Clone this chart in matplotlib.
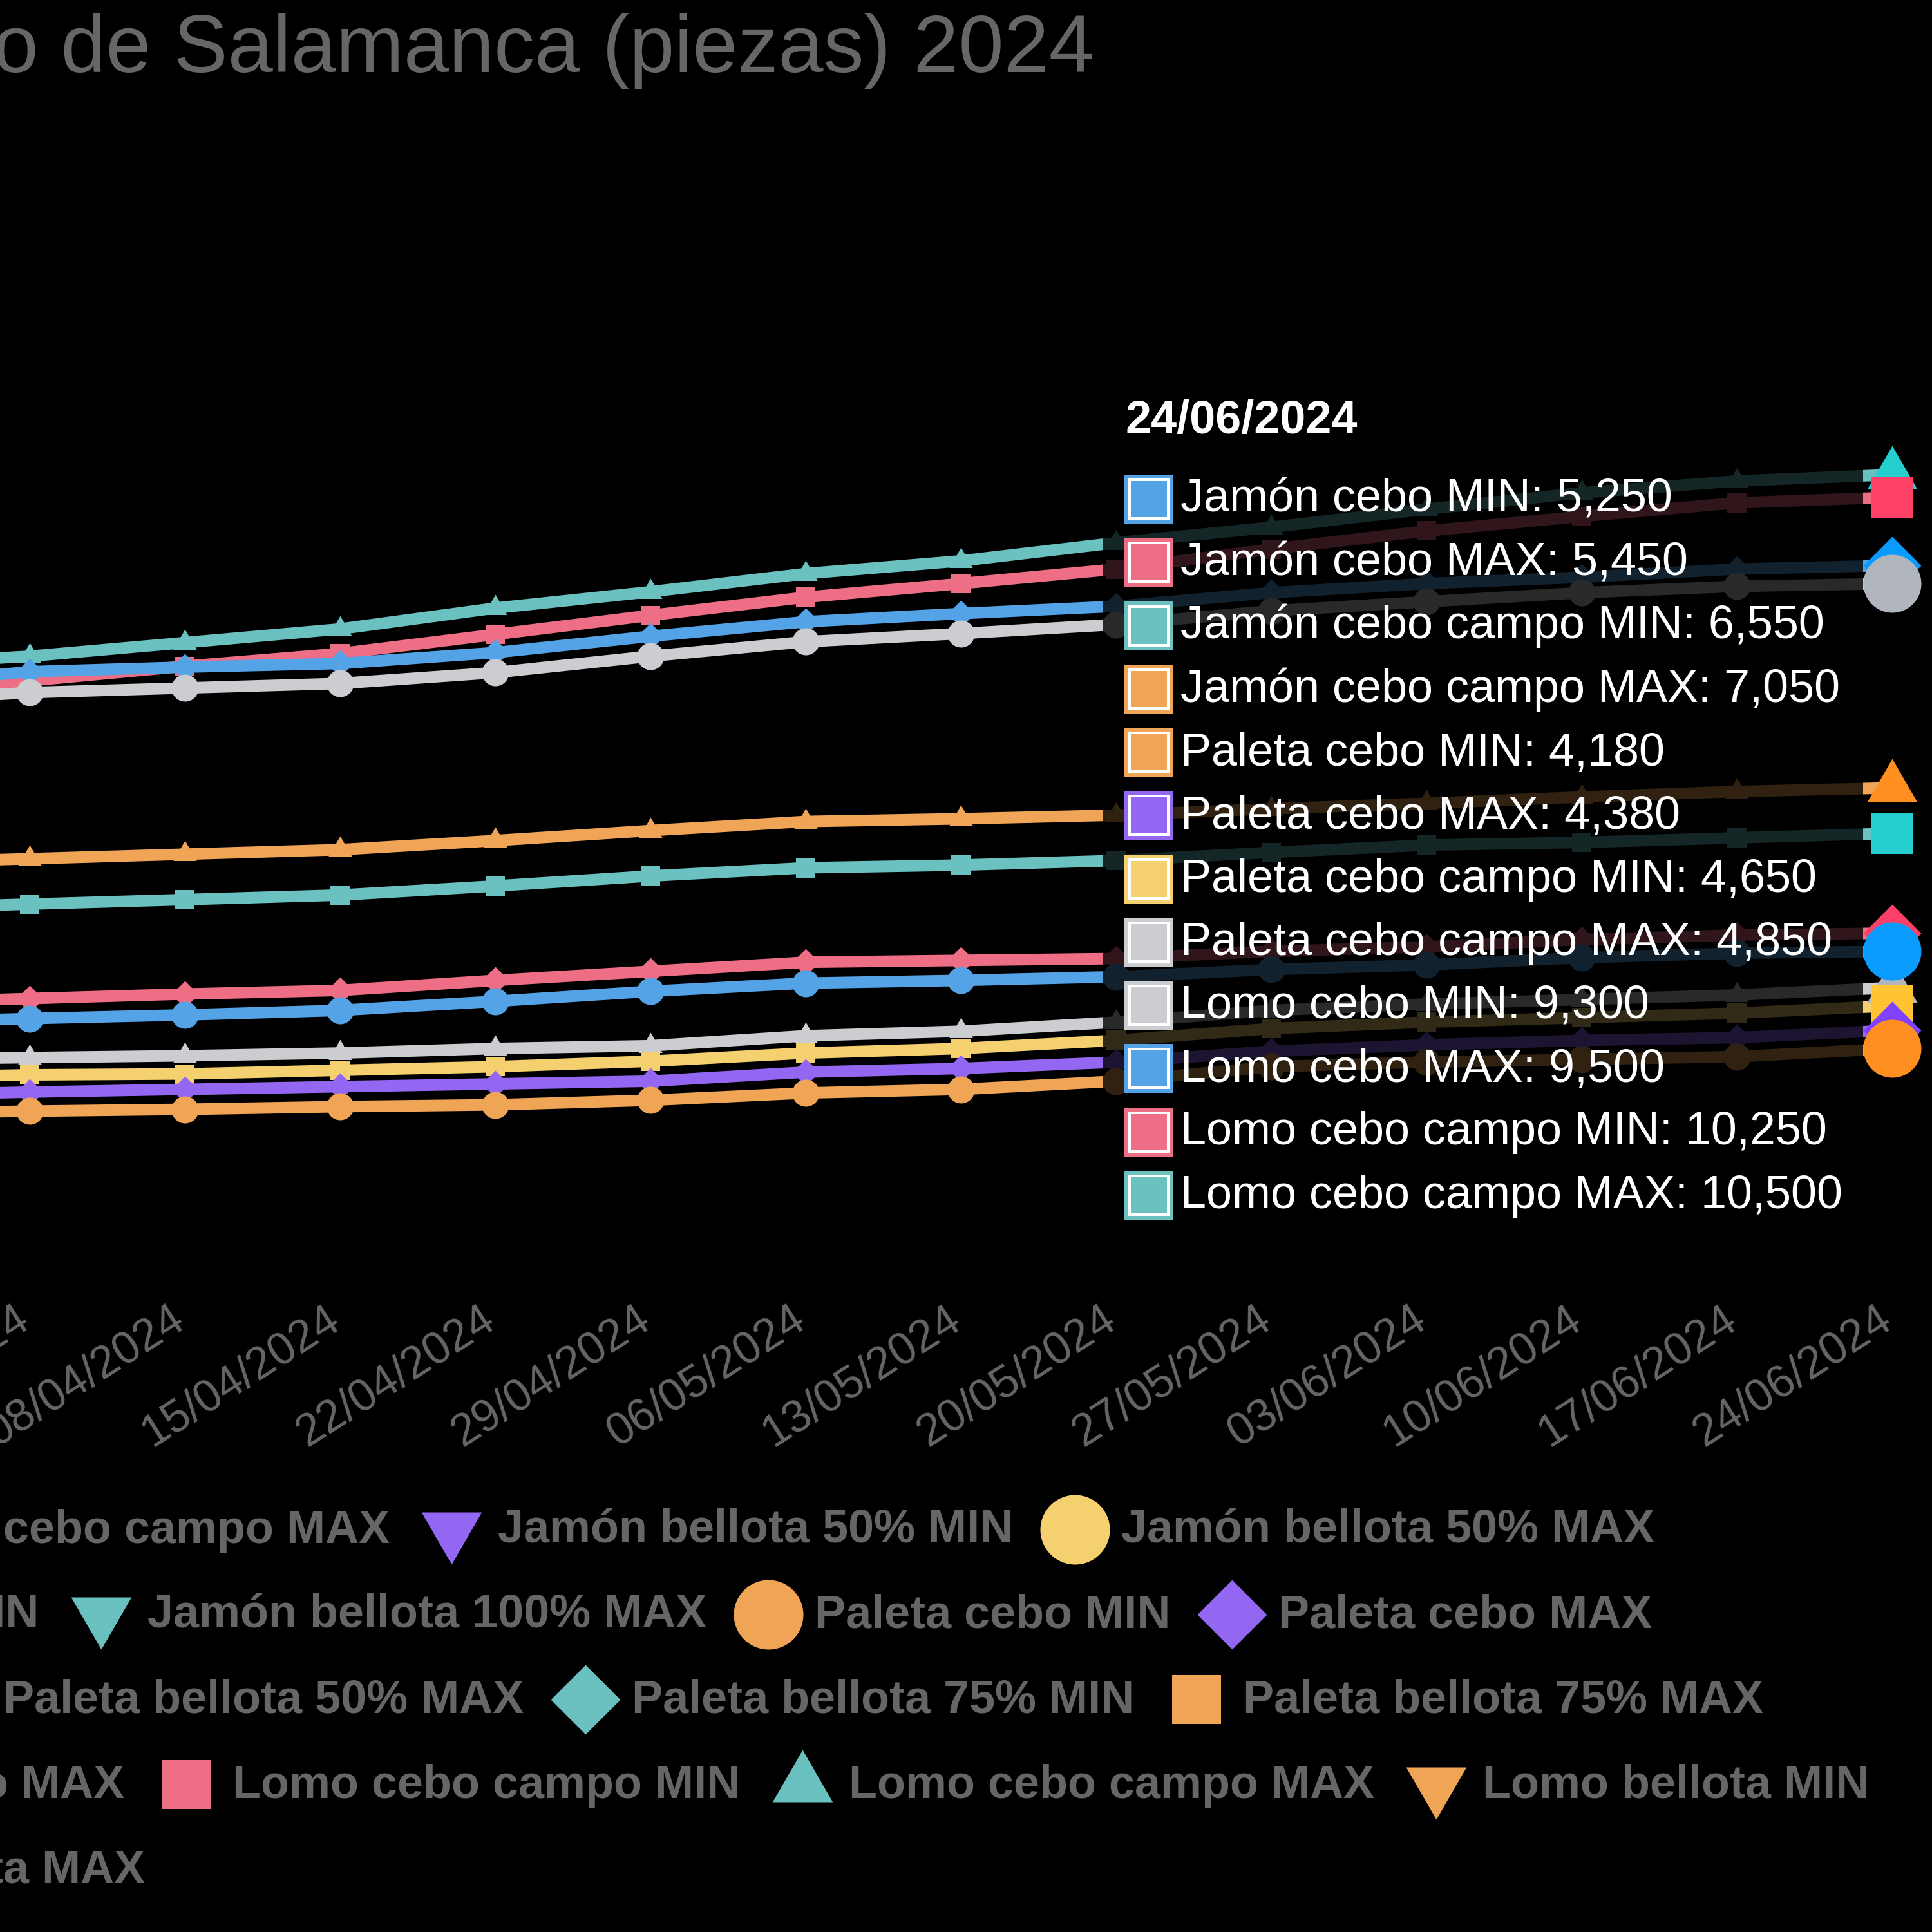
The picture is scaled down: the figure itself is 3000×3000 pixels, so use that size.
import numpy as np
import matplotlib
matplotlib.use('Agg')
import matplotlib.pyplot as plt
from matplotlib.path import Path
from matplotlib.patches import FancyBboxPatch, Rectangle
from matplotlib.lines import Line2D
from matplotlib.transforms import ScaledTranslation

plt.rcParams['font.family'] = ['Liberation Sans', 'DejaVu Sans']

# ---------------- data ----------------
TITLE = 'Precios del cerdo ibérico de Salamanca (piezas) 2024'
dates = ['25/03/2024', '01/04/2024', '08/04/2024', '15/04/2024', '22/04/2024',
         '29/04/2024', '06/05/2024', '13/05/2024', '20/05/2024', '27/05/2024',
         '03/06/2024', '10/06/2024', '17/06/2024', '24/06/2024']

series_names = [
    'Jamón cebo MIN', 'Jamón cebo MAX', 'Jamón cebo campo MIN', 'Jamón cebo campo MAX',
    'Jamón bellota 50% MIN', 'Jamón bellota 50% MAX', 'Jamón bellota 75% MIN',
    'Jamón bellota 75% MAX', 'Jamón bellota 100% MIN', 'Jamón bellota 100% MAX',
    'Paleta cebo MIN', 'Paleta cebo MAX', 'Paleta cebo campo MIN', 'Paleta cebo campo MAX',
    'Paleta bellota 50% MIN', 'Paleta bellota 50% MAX', 'Paleta bellota 75% MIN',
    'Paleta bellota 75% MAX', 'Paleta bellota 100% MIN', 'Paleta bellota 100% MAX',
    'Lomo cebo MIN', 'Lomo cebo MAX', 'Lomo cebo campo MIN', 'Lomo cebo campo MAX',
    'Lomo bellota MIN', 'Lomo bellota MAX']

jamon_cebo_min = [4.46, 4.51, 4.55, 4.60, 4.70, 4.81, 4.90, 4.93, 4.97, 5.05, 5.10, 5.18, 5.23, 5.25]
jamon_cebo_max = [4.68, 4.73, 4.78, 4.82, 4.93, 5.03, 5.13, 5.15, 5.17, 5.25, 5.30, 5.38, 5.43, 5.45]
jamon_cebo_campo_min = [5.72, 5.77, 5.82, 5.87, 5.97, 6.08, 6.17, 6.20, 6.25, 6.34, 6.42, 6.45, 6.50, 6.55]
jamon_cebo_campo_max = [6.22, 6.27, 6.32, 6.37, 6.47, 6.58, 6.68, 6.71, 6.75, 6.82, 6.88, 6.95, 7.01, 7.05]
paleta_cebo_min = [3.46, 3.49, 3.51, 3.54, 3.56, 3.61, 3.69, 3.73, 3.82, 3.98, 4.03, 4.06, 4.09, 4.18]
paleta_cebo_max = [3.66, 3.70, 3.73, 3.76, 3.79, 3.82, 3.92, 3.96, 4.03, 4.15, 4.22, 4.27, 4.30, 4.38]
paleta_cebo_campo_min = [3.86, 3.89, 3.90, 3.94, 3.98, 4.04, 4.13, 4.18, 4.27, 4.40, 4.47, 4.52, 4.57, 4.65]
paleta_cebo_campo_max = [4.06, 4.08, 4.10, 4.13, 4.18, 4.21, 4.32, 4.37, 4.47, 4.60, 4.67, 4.72, 4.77, 4.85]
lomo_cebo_min = [8.00, 8.10, 8.15, 8.20, 8.32, 8.50, 8.66, 8.75, 8.85, 9.00, 9.10, 9.20, 9.27, 9.30]
lomo_cebo_max = [8.17, 8.33, 8.38, 8.42, 8.54, 8.72, 8.88, 8.97, 9.05, 9.20, 9.30, 9.37, 9.46, 9.50]
lomo_cebo_campo_min = [8.07, 8.23, 8.39, 8.53, 8.74, 8.95, 9.15, 9.30, 9.46, 9.68, 9.88, 10.04, 10.19, 10.25]
lomo_cebo_campo_max = [8.40, 8.50, 8.65, 8.80, 9.03, 9.21, 9.41, 9.55, 9.75, 9.92, 10.12, 10.30, 10.43, 10.50]

series_values = {
    'Jamón cebo MIN': jamon_cebo_min, 'Jamón cebo MAX': jamon_cebo_max,
    'Jamón cebo campo MIN': jamon_cebo_campo_min, 'Jamón cebo campo MAX': jamon_cebo_campo_max,
    'Paleta cebo MIN': paleta_cebo_min, 'Paleta cebo MAX': paleta_cebo_max,
    'Paleta cebo campo MIN': paleta_cebo_campo_min, 'Paleta cebo campo MAX': paleta_cebo_campo_max,
    'Lomo cebo MIN': lomo_cebo_min, 'Lomo cebo MAX': lomo_cebo_max,
    'Lomo cebo campo MIN': lomo_cebo_campo_min, 'Lomo cebo campo MAX': lomo_cebo_campo_max,
}
hover_date = '24/06/2024'

legend_rows = [[0, 1, 2, 3, 4, 5], [6, 7, 8, 9, 10, 11], [12, 13, 14, 15, 16, 17],
               [18, 19, 20, 21, 22, 23, 24], [25]]

# ---------------- style ----------------
palette = ['#54A3E6', '#EE6E86', '#6BC0C0', '#F0A556', '#9467F2', '#F5D06F', '#CBCDD0']
hover_palette = ['#0A9BFF', '#FF4067', '#25CFCF', '#FF8F20', '#8142FF', '#FFC334', '#B1B6BE']
shape_cycle = ['circle', 'diamond', 'rect', 'triangle', 'tridown']

TRI = Path([(0, 1), (-0.866, -0.5), (0.866, -0.5), (0, 1)])
TRID = Path([(0, -1), (-0.866, 0.5), (0.866, 0.5), (0, -1)])
DIA = Path([(0, 1), (1, 0), (0, -1), (-1, 0), (0, 1)])
SHAPES = {'circle': ('o', 2.0), 'rect': ('s', 2 ** 0.5), 'diamond': (DIA, 2.0),
          'triangle': (TRI, 2.0), 'tridown': (TRID, 2.0)}

PX = 3000.0
PT = 72 / 300.0
FS = 72 * PT
GREY = '#666666'


def fx(x):
    return x / PX


def fy(y):
    return 1 - y / PX


def fmt(v):
    return f'{v:.3f}'.replace('.', ',')


fig = plt.figure(figsize=(10, 10), dpi=300, facecolor='black')

# axes calibration (pixel frame of the chart area, partially off-canvas)
ax_left, ax_right, ax_top, ax_bottom = -195, 2938, 250, 2000
v_ref, y_ref, ppu = 10.5, 737, 141.0
ylo = v_ref - (ax_bottom - y_ref) / ppu
yhi = v_ref + (y_ref - ax_top) / ppu
ax = fig.add_axes([fx(ax_left), fy(ax_bottom), (ax_right - ax_left) / PX, (ax_bottom - ax_top) / PX])
ax.set_facecolor('none')
ax.set_xlim(0, len(dates) - 1)
ax.set_ylim(ylo, yhi)
for sp in ax.spines.values():
    sp.set_visible(False)
ax.set_yticks([])
x = np.arange(len(dates))
ax.set_xticks(x)
ax.set_xticklabels(dates, rotation=32.5, ha='right', va='center', rotation_mode='anchor')
ax.tick_params(axis='x', length=0, pad=44 * PT, labelcolor=GREY, labelsize=70 * PT)
shift = ScaledTranslation(-6 / 300, 0, fig.dpi_scale_trans)
for lbl in ax.get_xticklabels():
    lbl.set_transform(lbl.get_transform() + shift)

for i, name in enumerate(series_names):
    vals = series_values.get(name)
    if vals is None:
        continue
    m, f = SHAPES[shape_cycle[i % 5]]
    ax.plot(x, vals, color=palette[i % 7], lw=18 * PT, marker=m, ms=f * 21 * PT, mew=0,
            zorder=100 - i, clip_on=False)
    ax.plot(x[-1:], vals[-1:], ls='none', marker=m, ms=f * 45 * PT, mew=0,
            color=hover_palette[i % 7], zorder=300 - i, clip_on=False)

# ---------------- tooltip ----------------
tl, tr, tt, tb = 1712, 2893, 569, 1930
tip = FancyBboxPatch((fx(tl), fy(tb)), (tr - tl) / PX, (tb - tt) / PX,
                     boxstyle=f'round,pad=0,rounding_size={36 / PX}', transform=fig.transFigure,
                     facecolor=(0, 0, 0, 0.8), edgecolor='none', zorder=200, clip_on=False)
ax.add_patch(tip)
ax.text(fx(1748), fy(673), hover_date, transform=fig.transFigure, color='white',
        fontweight='bold', fontsize=FS, ha='left', va='baseline', zorder=210)
k = 0
for i, name in enumerate(series_names):
    vals = series_values.get(name)
    if vals is None:
        continue
    base = 795 + k * 98.25
    top = base - 58
    col = palette[i % 7]
    r1 = Rectangle((fx(1746), fy(top + 76)), 76 / PX, 76 / PX, transform=fig.transFigure,
                   facecolor=col, edgecolor='none', zorder=205, clip_on=False)
    r2 = Rectangle((fx(1754), fy(top + 68)), 60 / PX, 60 / PX, transform=fig.transFigure,
                   facecolor=col, edgecolor='white', lw=4 * PT, zorder=206, clip_on=False)
    ax.add_patch(r1)
    ax.add_patch(r2)
    ax.text(fx(1833), fy(base), f'{name}: {fmt(vals[-1])}', transform=fig.transFigure,
            color='white', fontsize=FS, ha='left', va='baseline', zorder=210)
    k += 1

# ---------------- title ----------------
fig.text(fx(1699), fy(112), TITLE, ha='right', va='baseline', fontsize=126 * PT, color=GREY)

# ---------------- legend ----------------
renderer = fig.canvas.get_renderer()
cx = -143
BW, GAP, PAD = 72, 36, 60
for r, row in enumerate(legend_rows):
    yc = 2375 + r * 132
    texts, widths = [], []
    for i in row:
        t = fig.text(0, fy(yc + 21), series_names[i], fontsize=FS, fontweight='bold',
                     color=GREY, ha='left', va='baseline')
        texts.append(t)
        widths.append(t.get_window_extent(renderer).width)
    total = sum(BW + GAP + w for w in widths) + PAD * (len(row) - 1)
    xpos = cx - total / 2
    for i, t, w in zip(row, texts, widths):
        m, f = SHAPES[shape_cycle[i % 5]]
        fig.add_artist(Line2D([fx(xpos + BW / 2)], [fy(yc)], ls='none', marker=m,
                              ms=f * 54 * PT, mew=0, color=palette[i % 7],
                              transform=fig.transFigure))
        t.set_x(fx(xpos + BW + GAP))
        xpos += BW + GAP + w + PAD

fig.savefig('out.png', dpi=300, facecolor='black')
